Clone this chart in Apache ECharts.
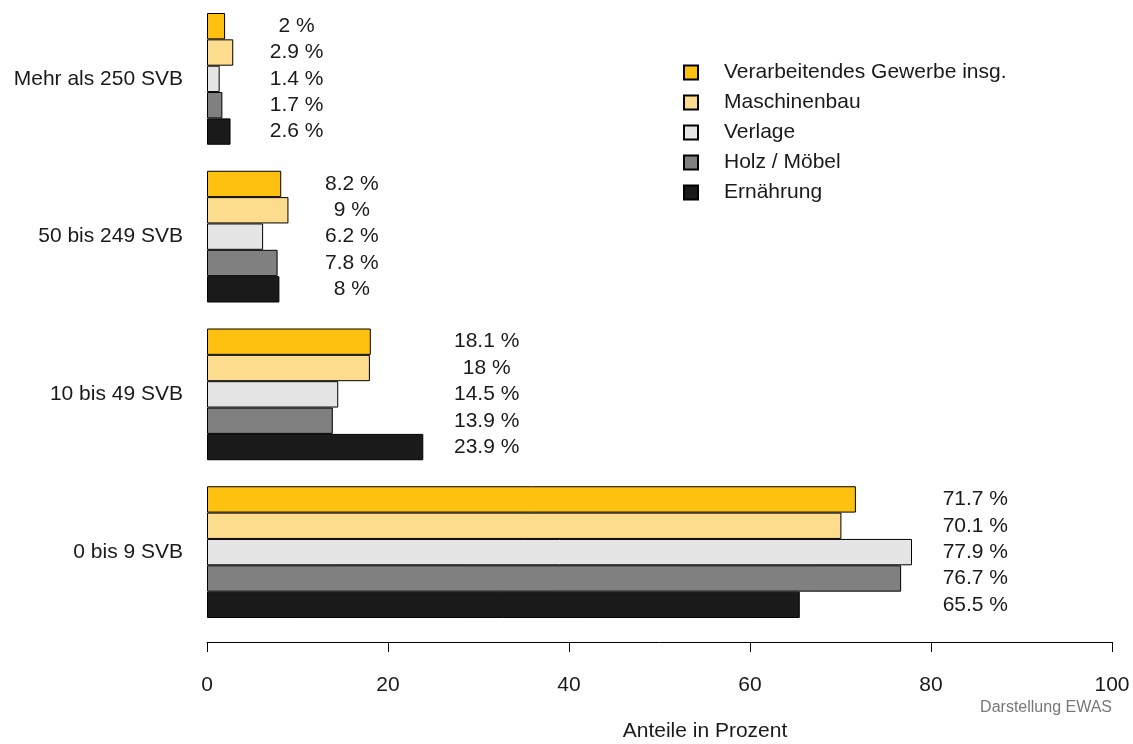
<!DOCTYPE html>
<html>
<head>
<meta charset="utf-8">
<script src="https://cdn.jsdelivr.net/npm/echarts@6/dist/echarts.min.js"></script>
<style>html,body{margin:0;padding:0;background:#fff}#c{width:1133px;height:744px}</style>
</head>
<body>
<div id="c"></div>
<script>
// Categories (bottom to top)
const categories = ['0 bis 9 SVB', '10 bis 49 SVB', '50 bis 249 SVB', 'Mehr als 250 SVB'];
// Series names (legend order, top bar in each group first)
const seriesNames = ['Verarbeitendes Gewerbe insg.', 'Maschinenbau', 'Verlage', 'Holz / Möbel', 'Ernährung'];
const seriesColors = ['#FEC10F', '#FDDC8D', '#E5E5E5', '#808080', '#1A1A1A'];
// Values per series, in category order
const verarbeitendes = [71.7, 18.1, 8.2, 2];
const maschinenbau   = [70.1, 18, 9, 2.9];
const verlage        = [77.9, 14.5, 6.2, 1.4];
const holzMoebel     = [76.7, 13.9, 7.8, 1.7];
const ernaehrung     = [65.5, 23.9, 8, 2.6];
const xTicks = [0, 20, 40, 60, 80, 100];

const values = [verarbeitendes, maschinenbau, verlage, holzMoebel, ernaehrung];
const labelOffset = 7; // labels placed at group max + 7 units
const catGap = 0.165;

const FONT = 'Liberation Sans, Arial, Helvetica, sans-serif';
const FS = 21;

const barSeries = values.map((v, i) => ({
  name: seriesNames[i],
  type: 'bar',
  data: v,
  barGap: '0%',
  barCategoryGap: (catGap * 100) + '%',
  itemStyle: { color: seriesColors[i], borderColor: '#000', borderWidth: 1 },
  emphasis: { disabled: true },
  silent: true
}));

// label data: [labelX, catIndex, seriesIndex(top=0), value]
const labelData = [];
categories.forEach((c, ci) => {
  const mx = Math.max(...values.map(v => v[ci]));
  values.forEach((v, si) => labelData.push([mx + labelOffset, ci, si, v[ci]]));
});

const labelSeries = {
  type: 'custom',
  silent: true,
  data: labelData,
  encode: { x: 0, y: 1 },
  renderItem: function (params, api) {
    const p = api.coord([api.value(0), api.value(1)]);
    const band = api.size([0, 1])[1];
    const bw = band * (1 - catGap) / 5;
    const k = api.value(2);
    return {
      type: 'text',
      style: {
        x: p[0], y: p[1] + (k - 2) * bw,
        text: api.value(3) + ' %',
        fill: '#1a1a1a',
        font: FS + 'px ' + FONT,
        align: 'center', verticalAlign: 'middle'
      }
    };
  }
};

const chart = echarts.init(document.getElementById('c'), null, { renderer: 'canvas' });
chart.setOption({
  animation: false,
  backgroundColor: '#fff',
  textStyle: { fontFamily: FONT },
  grid: { left: 207, right: 21, top: -1, bottom: 113, containLabel: false },
  legend: {
    data: seriesNames,
    orient: 'vertical',
    left: 683, top: 62,
    padding: 0,
    icon: 'rect',
    itemWidth: 14, itemHeight: 14,
    itemGap: 9,
    selectedMode: false,
    textStyle: { fontSize: FS, color: '#1a1a1a', fontFamily: FONT, padding: [0, 0, 0, 21] }
  },
  xAxis: {
    type: 'value',
    min: 0, max: 100, interval: 20,
    offset: 11,
    axisLine: { show: true, lineStyle: { color: '#000', width: 1 } },
    axisTick: { show: true, length: 10, lineStyle: { color: '#000' } },
    axisLabel: { fontSize: FS, color: '#1a1a1a', margin: 33, fontFamily: FONT,
      customValues: xTicks },
    splitLine: { show: false }
  },
  yAxis: {
    type: 'category',
    data: categories,
    axisLine: { show: false },
    axisTick: { show: false },
    axisLabel: { fontSize: FS, color: '#1a1a1a', margin: 24, fontFamily: FONT }
  },
  graphic: [
    { type: 'text', x: 705, y: 731, style: { text: 'Anteile in Prozent', font: FS + 'px ' + FONT, fill: '#1a1a1a', align: 'center', verticalAlign: 'middle' } },
    { type: 'text', x: 1112, y: 708, style: { text: 'Darstellung EWAS', font: '16px ' + FONT, fill: '#777', align: 'right', verticalAlign: 'middle' } }
  ],
  series: barSeries.concat([labelSeries])
});
</script>
</body>
</html>
